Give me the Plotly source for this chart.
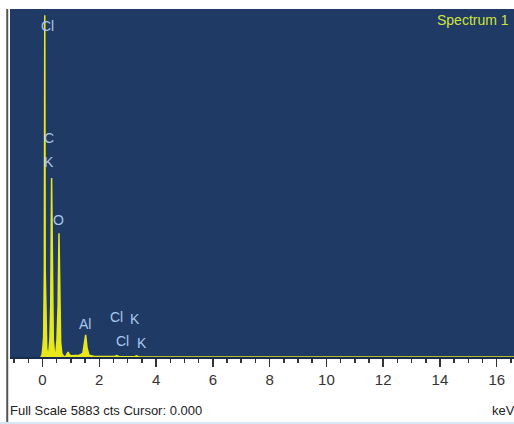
import plotly.graph_objects as go

# Spectrum data (energy in keV, counts)
energy = [-0.06, -0.02, 0.01, 0.04, 0.065, 0.08, 0.095, 0.12, 0.15, 0.18, 0.22, 0.26, 0.29, 0.32,
          0.35, 0.38, 0.42, 0.47, 0.51, 0.55, 0.58, 0.61, 0.64, 0.68, 0.74, 0.82, 0.87, 0.90, 0.94,
          1.00, 1.15, 1.30, 1.42, 1.47, 1.52, 1.57, 1.64, 1.80, 2.00, 2.30, 2.55, 2.62, 2.70, 3.00,
          3.25, 3.31, 3.38, 3.60, 16.70]
counts = [0, 30, 150, 350, 1500, 5883, 1500, 350, 150, 60, 80, 300, 900, 3080,
          900, 300, 80, 60, 300, 900, 2130, 800, 250, 60, 15, 10, 50, 85, 45,
          20, 25, 30, 60, 200, 380, 150, 30, 12, 8, 5, 8, 25, 6, 4,
          6, 20, 4, 0, 0]

# Element labels
label_text = ["Cl", "C", "K", "O", "Al", "Cl", "K", "Cl", "K"]
label_energy = [0.159, 0.229, 0.229, 0.546, 1.497, 2.589, 3.258, 2.80, 3.505]
label_counts = [5697, 3770, 3357, 2358, 568, 689, 654, 275, 241]

tick_vals = [0, 2, 4, 6, 8, 10, 12, 14, 16]
full_scale = 5883

FONT = "Liberation Sans Narrow, Arial Narrow, Liberation Sans, Arial, sans-serif"
NAVY = "#1f3a64"
YELLOW = "#e8e81a"
LABEL_BLUE = "#a9c8ef"

fig = go.Figure()
fig.add_trace(go.Scatter(
    x=energy, y=counts, mode="lines", fill="tozeroy",
    line=dict(color=YELLOW, width=1.5), fillcolor=YELLOW,
    hoverinfo="skip", showlegend=False,
))

for t, e, c in zip(label_text, label_energy, label_counts):
    fig.add_annotation(x=e, y=c, xref="x", yref="y", text=t, showarrow=False,
                       font=dict(family=FONT, size=14, color=LABEL_BLUE))

fig.add_annotation(x=1.0, y=1.0, xref="paper", yref="paper", xanchor="right", yanchor="top",
                   xshift=-3, yshift=-1, text="Spectrum 1", showarrow=False,
                   font=dict(family=FONT, size=14, color="#cfe43c"))

fig.add_annotation(x=0.0, y=0, xref="paper", yref="paper", xanchor="left", yanchor="middle",
                   xshift=-2, yshift=-53,
                   text=f"Full Scale {full_scale} cts Cursor: 0.000", showarrow=False,
                   font=dict(family=FONT, size=13, color="#222222"))
fig.add_annotation(x=1.0, y=0, xref="paper", yref="paper", xanchor="left", yanchor="middle",
                   xshift=-24, yshift=-53, text="keV", showarrow=False,
                   font=dict(family=FONT, size=13, color="#222222"))

# left border line and bottom light line
fig.add_shape(type="line", xref="paper", yref="paper", x0=-0.0055, x1=-0.0055, y0=1.0, y1=-0.2,
              line=dict(color="#555555", width=2))
fig.add_shape(type="line", xref="paper", yref="paper", x0=-0.02, x1=1.0, y0=-0.19, y1=-0.19,
              line=dict(color="#d6e6f5", width=2))

fig.update_layout(
    width=514, height=424,
    margin=dict(l=10, r=0, t=9, b=67),
    paper_bgcolor="white", plot_bgcolor=NAVY,
    xaxis=dict(range=[-1.145, 16.608], tickvals=tick_vals, ticks="outside", ticklen=8,
               tickcolor="#333333", tickwidth=1.5, showgrid=False, zeroline=False,
               showline=True, linecolor="#1a2c4c", linewidth=2,
               tickfont=dict(family=FONT, size=15, color="#333333"),
               minor=dict(dtick=0.5, tick0=0, ticks="outside", ticklen=4, tickcolor="#333333",
                          tickwidth=1.5, showgrid=False),
               fixedrange=True),
    yaxis=dict(range=[0, 5990], showticklabels=False, showgrid=False, zeroline=False,
               ticks="", fixedrange=True),
)

fig.write_html("out.html", config={"displayModeBar": False, "staticPlot": True},
               post_script="document.body.style.margin='0';document.body.style.overflow='hidden';")
